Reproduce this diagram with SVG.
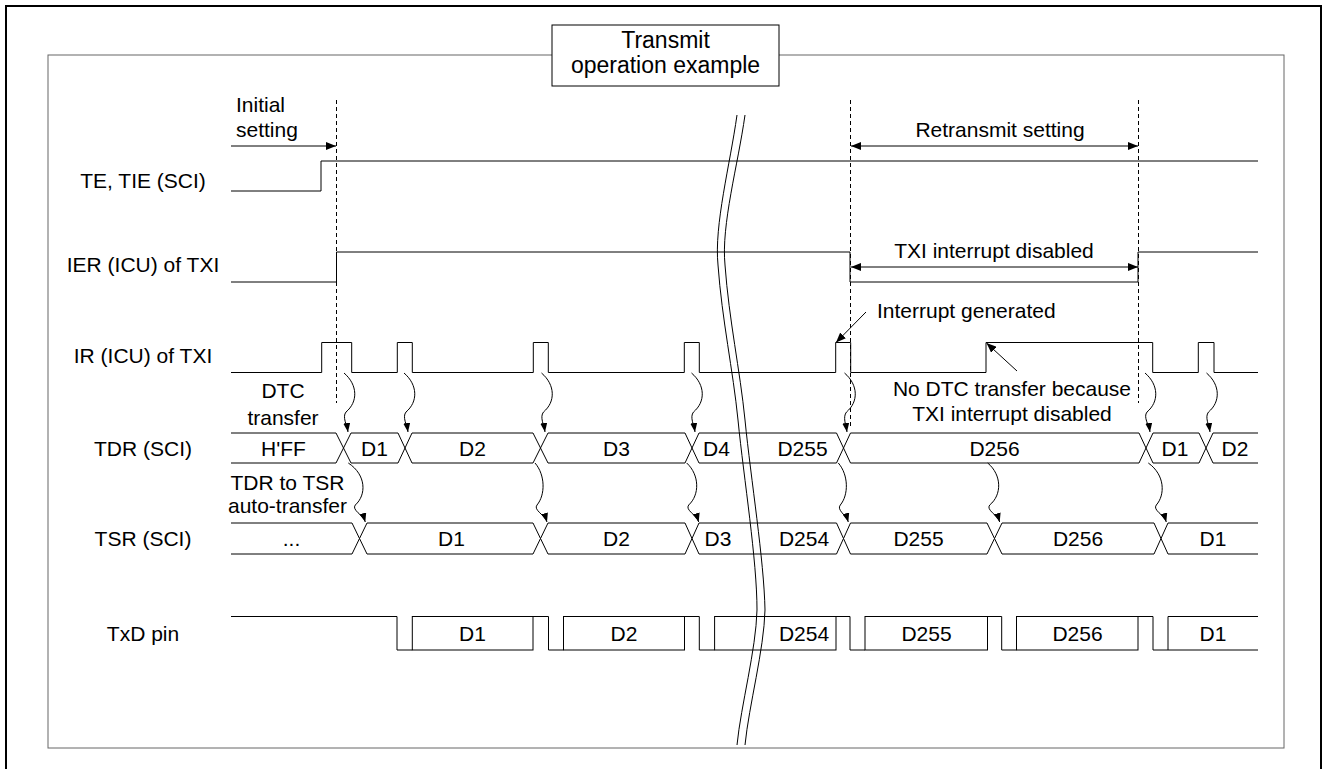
<svg xmlns="http://www.w3.org/2000/svg" width="1328" height="769" viewBox="0 0 1328 769">
<style>
.sig{fill:none;stroke:#000;stroke-width:1}
.t{font-family:"Liberation Sans",Arial,sans-serif;font-size:21px;fill:#000}
.m{text-anchor:middle}
.dash{fill:none;stroke:#000;stroke-width:1;stroke-dasharray:4 3}
.wv{fill:none;stroke:#000;stroke-width:1;marker-end:url(#wh)}
.ar{fill:none;stroke:#000;stroke-width:1}
</style>
<defs>
<marker id="ah" viewBox="0 0 10 8" refX="10" refY="4" markerWidth="10" markerHeight="8" markerUnits="userSpaceOnUse" orient="auto-start-reverse"><path d="M0,0 L10,4 L0,8 z" fill="#000"/></marker>
<marker id="wh" viewBox="0 0 9 7" refX="9" refY="3.5" markerWidth="9" markerHeight="7" markerUnits="userSpaceOnUse" orient="auto"><path d="M0,0 L9,3.5 L0,7 z" fill="#000"/></marker>
</defs>
<rect width="1328" height="769" fill="#fff"/>
<g id="frame">
<path d="M6,780 V6 H1321 V780" fill="none" stroke="#000" stroke-width="2"/>
<rect x="48" y="55" width="1236" height="693" fill="none" stroke="#666" stroke-width="1"/>
</g>
<g id="title">
<rect x="552" y="25" width="227" height="61" fill="#fff" stroke="#000" stroke-width="1"/>
<text class="t m" x="665.5" y="48" style="font-size:23px">Transmit</text>
<text class="t m" x="665.5" y="73" style="font-size:23px">operation example</text>
</g>
<g id="row-te">
<text class="t m" x="143" y="188">TE, TIE (SCI)</text>
<path class="sig" d="M231,191 H321 V161 H1258"/>
</g>
<g id="row-ier">
<text class="t m" x="143" y="272">IER (ICU) of TXI</text>
<path class="sig" d="M231,282 H336.5 V252 H850 V282 H1138 V252 H1258"/>
</g>
<g id="row-ir">
<text class="t m" x="143" y="363">IR (ICU) of TXI</text>
<path class="sig" d="M231,372.5 H321.7 V342.5 H351.7 V372.5 H397.3 V342.5 H412.3 V372.5 H533.3 V342.5 H548.3 V372.5 H684.3 V342.5 H699.3 V372.5 H835.7 V342.5 H850.7 V372.5 H986 V342.5 H1152.7 V372.5 H1198.3 V342.5 H1214 V372.5 H1258"/>
</g>
<g id="row-tdr">
<text class="t m" x="143" y="456">TDR (SCI)</text>
<path class="sig" d="M231,433 H336 L343.5,448 L351,433 H398 L405,448 L412,433 H533 L540.5,448 L548,433 H685 L692,448 L699,433 H836.5 L843.5,448 L850.5,433 H1139 L1146,448 L1153,433 H1199 L1206,448 L1213,433 H1258"/>
<path class="sig" d="M231,463 H336 L343.5,448 L351,463 H398 L405,448 L412,463 H533 L540.5,448 L548,463 H685 L692,448 L699,463 H836.5 L843.5,448 L850.5,463 H1139 L1146,448 L1153,463 H1199 L1206,448 L1213,463 H1258"/>
<text class="t m" x="283.5" y="456">H'FF</text>
<text class="t m" x="374.5" y="456">D1</text>
<text class="t m" x="472.5" y="456">D2</text>
<text class="t m" x="616.5" y="456">D3</text>
<text class="t m" x="716.5" y="456">D4</text>
<text class="t m" x="802.5" y="456">D255</text>
<text class="t m" x="994.5" y="456">D256</text>
<text class="t m" x="1175" y="456">D1</text>
<text class="t m" x="1235" y="456">D2</text>
</g>
<g id="row-tsr">
<text class="t m" x="143" y="546">TSR (SCI)</text>
<path class="sig" d="M231,523 H352 L359.5,538.5 L367,523 H533 L540.5,538.5 L548,523 H685 L692,538.5 L699,523 H836.5 L843.5,538.5 L850.5,523 H987 L994.5,538.5 L1002,523 H1154 L1161,538.5 L1168,523 H1258"/>
<path class="sig" d="M231,554 H352 L359.5,538.5 L367,554 H533 L540.5,538.5 L548,554 H685 L692,538.5 L699,554 H836.5 L843.5,538.5 L850.5,554 H987 L994.5,538.5 L1002,554 H1154 L1161,538.5 L1168,554 H1258"/>
<text class="t m" x="291.5" y="546">...</text>
<text class="t m" x="451.5" y="546">D1</text>
<text class="t m" x="616.5" y="546">D2</text>
<text class="t m" x="718" y="546">D3</text>
<text class="t m" x="804" y="546">D254</text>
<text class="t m" x="918.5" y="546">D255</text>
<text class="t m" x="1078" y="546">D256</text>
<text class="t m" x="1213" y="546">D1</text>
</g>
<g id="row-txd">
<text class="t m" x="143" y="641">TxD pin</text>
<path class="sig" d="M231,616.5 H397 V650 H412.3 M533,616.5 H548.5 V650 H563.5 M684.5,616.5 H699.3 V650 H714.6 M836,616.5 H850 V650 H865 M987.5,616.5 H1001.7 V650 H1016.5 M1138,616.5 H1153 V650 H1168 M1258,616.5 H1168 V650 H1258"/>
<rect class="sig" x="412.3" y="616.5" width="120.7" height="33.5"/>
<rect class="sig" x="563.5" y="616.5" width="121" height="33.5"/>
<rect class="sig" x="714.6" y="616.5" width="121.4" height="33.5"/>
<rect class="sig" x="865" y="616.5" width="122.5" height="33.5"/>
<rect class="sig" x="1016.5" y="616.5" width="121.5" height="33.5"/>
<text class="t m" x="472.5" y="641">D1</text>
<text class="t m" x="624" y="641">D2</text>
<text class="t m" x="804" y="641">D254</text>
<text class="t m" x="926.5" y="641">D255</text>
<text class="t m" x="1077.5" y="641">D256</text>
<text class="t m" x="1213" y="641">D1</text>
</g>
<g id="break">
<path class="sig" d="M737,115 C730,165 714,225 718,265 C722,320 733,370 738,420 C744,480 757,560 757,610 C756,650 741,705 737,745"/>
<path class="sig" d="M745,115 C738,165 721,225 725,265 C729,320 740,370 745,420 C751,480 764,560 765,610 C764,650 749,705 745,745"/>
</g>
<g id="annotations">
<text class="t" x="236" y="112">Initial</text>
<text class="t" x="236" y="137">setting</text>
<text class="t m" x="1000" y="137">Retransmit setting</text>
<text class="t m" x="994" y="258">TXI interrupt disabled</text>
<text class="t" x="877" y="318">Interrupt generated</text>
<text class="t m" x="1012" y="396">No DTC transfer because</text>
<text class="t m" x="1012" y="421">TXI interrupt disabled</text>
<text class="t m" x="283" y="398">DTC</text>
<text class="t m" x="283" y="425">transfer</text>
<text class="t m" x="287.5" y="490">TDR to TSR</text>
<text class="t m" x="287.5" y="513">auto-transfer</text>
</g>
<g id="connectors">
<line class="dash" x1="336.5" y1="100" x2="336.5" y2="403"/>
<line class="dash" x1="850.5" y1="100" x2="850.5" y2="428"/>
<line class="dash" x1="1138.5" y1="100" x2="1138.5" y2="403"/>
<line class="ar" x1="231" y1="146" x2="336" y2="146" marker-end="url(#ah)"/>
<line class="ar" x1="851" y1="146" x2="1138" y2="146" marker-start="url(#ah)" marker-end="url(#ah)"/>
<line class="ar" x1="851" y1="267" x2="1138" y2="267" marker-start="url(#ah)" marker-end="url(#ah)"/>
<line class="ar" x1="866" y1="312" x2="836" y2="342.5" marker-end="url(#ah)"/>
<line class="ar" x1="1017" y1="371" x2="986.5" y2="343" marker-end="url(#ah)"/>
<path class="wv" d="M344,373 C358,385 358,402 346,412 C342,417 347,425 348,432"/>
<path class="wv" d="M404,373 C418,385 418,402 406,412 C402,417 407,425 408,432"/>
<path class="wv" d="M541.5,373 C555.5,385 555.5,402 543.5,412 C539.5,417 544,425 545,432"/>
<path class="wv" d="M691.5,373 C705.5,385 705.5,402 693.5,412 C689.5,417 694,425 695,432"/>
<path class="wv" d="M844.5,373 C858.5,385 858.5,402 846.5,412 C842.5,417 846,425 847,432"/>
<path class="wv" d="M1145,373 C1159,385 1159,402 1147,412 C1143,417 1149,425 1150,432"/>
<path class="wv" d="M1206.5,373 C1220.5,385 1220.5,402 1208.5,412 C1204.5,417 1209,425 1210,432"/>
<path class="wv" d="M348.3,463 C366.5,475 366.5,495 355.3,505 C351.3,510 363.3,515 365.3,522"/>
<path class="wv" d="M535,463 C545.4,475 545.4,495 537,505 C533,510 545,515 547,522"/>
<path class="wv" d="M686.7,463 C699.7,475 699.7,495 688.7,505 C684.7,510 696.7,515 698.7,522"/>
<path class="wv" d="M838.3,463 C848.7,475 848.7,495 840.3,505 C836.3,510 846.3,515 848.3,522"/>
<path class="wv" d="M987.7,463 C1002,475 1002,495 989.7,505 C985.7,510 997.7,515 999.7,522"/>
<path class="wv" d="M1148.3,463 C1165.2,475 1165.2,495 1156.3,505 C1152.3,510 1164.3,515 1166.3,522"/>
</g>
</svg>
